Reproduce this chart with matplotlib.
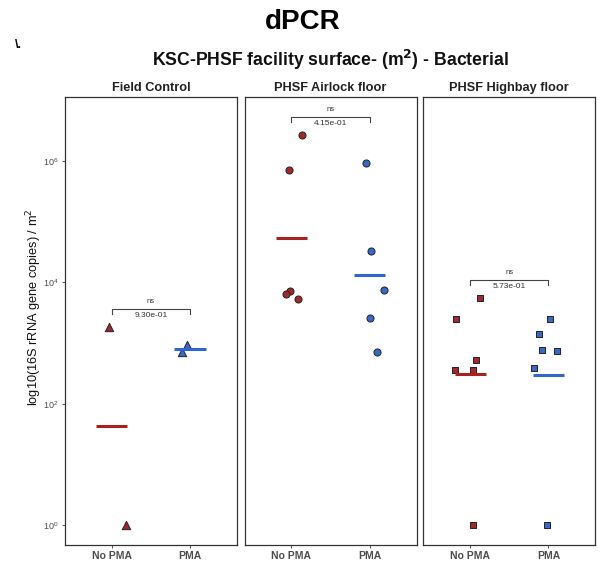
import matplotlib
matplotlib.use('Agg')
import matplotlib.pyplot as plt
import numpy as np

plt.rcParams['font.family'] = ['Liberation Sans', 'DejaVu Sans']

# Datos (copias de genes / m2)
paneles = ["Field Control", "PHSF Airlock floor", "PHSF Highbay floor"]
grupos = ["No PMA", "PMA"]
marcadores = ['^', 'o', 's']

fc_nopma = [1820, 1]
fc_pma = [910, 710]
air_nopma = [2.65e6, 7.0e5, 7300, 6400, 5400]
air_pma = [9.3e5, 33000, 7600, 2570, 705]
hb_nopma = [5450, 2470, 527, 355, 363, 1]
hb_pma = [2520, 1420, 755, 730, 383, 1]

# desplazamiento horizontal (jitter) de cada punto
fc_jit_nopma = [-0.04, 0.18]
fc_jit_pma = [-0.04, -0.10]
air_jit_nopma = [0.13, -0.03, -0.02, -0.07, 0.08]
air_jit_pma = [-0.05, 0.02, 0.18, 0.0, 0.09]
hb_jit_nopma = [0.12, -0.18, 0.08, -0.19, 0.04, 0.04]
hb_jit_pma = [0.02, -0.12, -0.08, 0.11, -0.19, -0.02]

p_valores = ["9.30e-01", "4.15e-01", "5.73e-01"]

datos = [(fc_nopma, fc_pma), (air_nopma, air_pma), (hb_nopma, hb_pma)]
jitters = [(fc_jit_nopma, fc_jit_pma), (air_jit_nopma, air_jit_pma), (hb_jit_nopma, hb_jit_pma)]

col_puntos = ['#9e2a2b', '#3a68c9']
col_media = ['#a52223', '#2f66d0']
tam = [36, 26, 22]

fig = plt.figure(figsize=(6.06, 5.68), dpi=100)
lefts = [0.107, 0.4035, 0.6985]

for i, nombre in enumerate(paneles):
    ax = fig.add_axes([lefts[i], 0.0405, 0.284, 0.7887])
    ax.set_yscale('log')
    ax.set_ylim(10 ** -0.33, 10 ** 7.055)
    ax.set_xlim(0.4, 2.6)
    for g in range(2):
        vals = np.array(datos[i][g], dtype=float)
        xs = (g + 1) + np.array(jitters[i][g])
        ax.scatter(xs, vals, marker=marcadores[i], s=tam[i], color=col_puntos[g],
                   edgecolors='#222222', linewidths=0.7, zorder=3)
        # media geometrica
        gm = 10 ** np.mean(np.log10(vals))
        ax.plot([g + 1 - 0.2, g + 1 + 0.2], [gm, gm], color=col_media[g], lw=2.2,
                solid_capstyle='butt', zorder=4)

    # corchete de significancia
    top = 2 * max(max(datos[i][0]), max(datos[i][1]))
    ax.plot([1, 1, 2, 2], [top * 0.83, top, top, top * 0.83], color='#444444', lw=0.8)
    ax.annotate("ns", (1.5, top), xytext=(0, 3), textcoords='offset points',
                ha='center', va='bottom', fontsize=5.5, color='#333333')
    ax.annotate(p_valores[i], (1.5, top), xytext=(0, -2), textcoords='offset points',
                ha='center', va='top', fontsize=6, color='#333333')

    ax.set_title(nombre, fontsize=9.2, fontweight='bold', color='#222222', pad=4)
    ax.set_xticks([1, 2])
    ax.set_xticklabels(grupos, fontsize=7.5, fontweight='bold', color='#4d4d4d')
    ax.minorticks_off()
    ax.set_yticks([1, 1e2, 1e4, 1e6])
    ax.tick_params(axis='both', length=2.5, width=0.6, color='#333333', pad=2)
    ax.tick_params(axis='y', labelsize=6.5, labelcolor='#4d4d4d')
    if i > 0:
        ax.tick_params(axis='y', left=False, labelleft=False)
    for sp in ax.spines.values():
        sp.set_color('#333333')
        sp.set_linewidth(0.9)
    if i == 0:
        ax.set_ylabel("log10(16S rRNA gene copies) / m$^2$", fontsize=9.2, color='#111111')
        ax.yaxis.set_label_coords(-0.12, 0.53)

fig.text(0.5, 0.962, "dPCR", ha='center', va='center', fontsize=20, fontweight='bold')
fig.text(0.025, 0.921, "\\.", ha='left', va='center', fontsize=9, fontweight='bold')
fig.text(0.545, 0.894, "KSC-PHSF facility surface- (m$^\\mathbf{2}$) - Bacterial", ha='center',
         va='center', fontsize=12.7, fontweight='bold', color='#111111')

fig.savefig('out.png', dpi=100)
